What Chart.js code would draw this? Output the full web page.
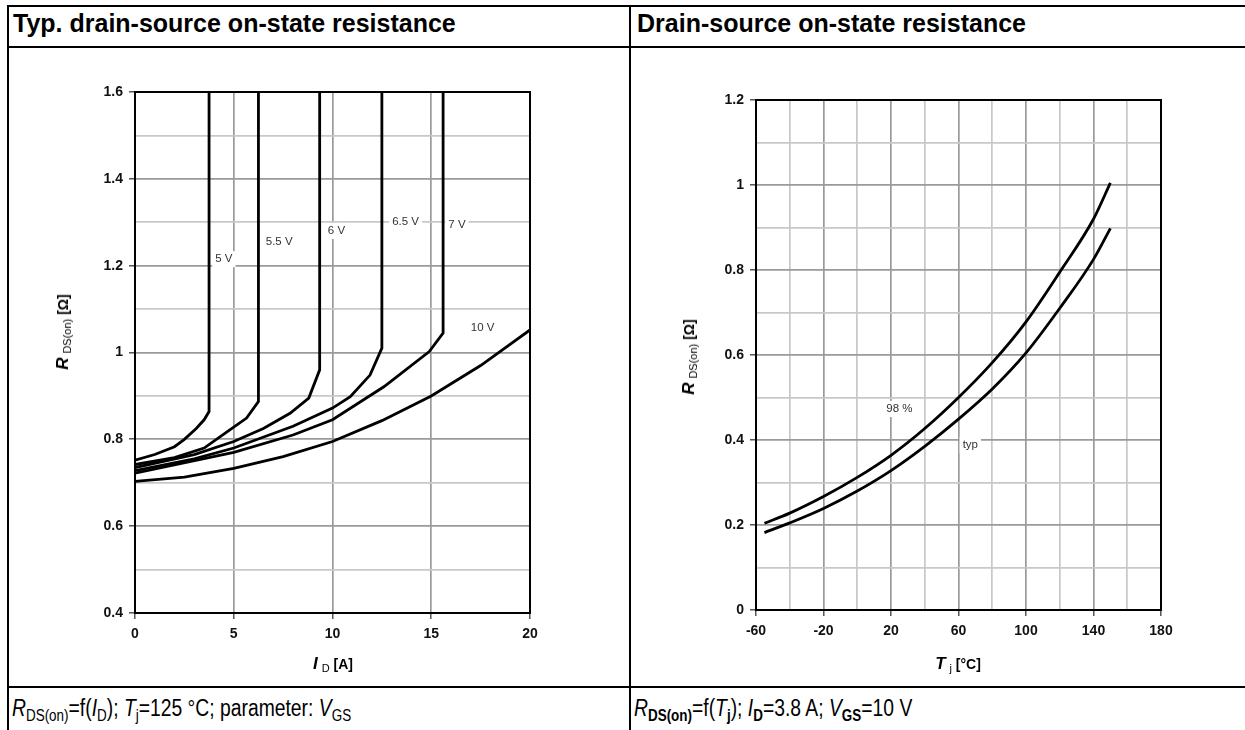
<!DOCTYPE html>
<html>
<head>
<meta charset="utf-8">
<script src="https://cdn.jsdelivr.net/npm/chart.js@4.4.0/dist/chart.umd.min.js"></script>
<style>
body { margin: 0; background: #fff; font-family: Arial, "Liberation Sans", sans-serif; width: 1245px; height: 730px; overflow: hidden; position: relative; }
.ln { position: absolute; background: #000; }
.hdr { position: absolute; top: 9px; font-weight: bold; font-size: 25px; white-space: nowrap; }
.cap { position: absolute; top: 695px; font-size: 23px; white-space: nowrap; transform: scaleX(0.84); transform-origin: left top; }
.cap sub { font-size: 16px; vertical-align: -5px; }
.box { position: absolute; }
.ttl { position: absolute; font-size: 14px; font-weight: bold; white-space: nowrap; }
.ttl i { font-size: 17px; }
.ttl sub { font-size: 11px; font-weight: normal; vertical-align: -3px; }
.rot { transform: translate(-50%, -50%) rotate(-90deg); }
.hor { transform: translate(-50%, -50%); }
</style>
</head>
<body>

<!-- table frame -->
<div class="ln" style="left:7px;top:5px;width:1245px;height:2px"></div>
<div class="ln" style="left:7px;top:46px;width:1245px;height:2px"></div>
<div class="ln" style="left:7px;top:686px;width:1245px;height:2px"></div>
<div class="ln" style="left:7px;top:5px;width:2px;height:730px"></div>
<div class="ln" style="left:629px;top:5px;width:2px;height:730px"></div>

<div class="hdr" style="left:13px">Typ. drain-source on-state resistance</div>
<div class="hdr" style="left:637px">Drain-source on-state resistance</div>

<div class="cap" style="left:12px"><i>R</i><sub>DS(on)</sub>=f(<i>I</i><sub>D</sub>); <i>T</i><sub>j</sub>=125 °C; parameter: <i>V</i><sub>GS</sub></div>
<div class="cap" style="left:634px"><i>R</i><sub><b>DS(on)</b></sub>=f(<i>T</i><sub><b>j</b></sub>); <i>I</i><sub><b>D</b></sub>=3.8 A; <i>V</i><sub><b>GS</b></sub>=10 V</div>

<div class="box" style="left:20px;top:60px;width:600px;height:620px"><canvas id="leftChart"></canvas></div>
<div class="box" style="left:640px;top:60px;width:590px;height:620px"><canvas id="rightChart"></canvas></div>

<div class="ttl rot" style="left:63px;top:332px"><i>R</i> <sub>DS(on)</sub> [Ω]</div>
<div class="ttl hor" style="left:333px;top:664px"><i>I</i> <sub>D</sub> [A]</div>
<div class="ttl rot" style="left:689px;top:357px"><i>R</i> <sub>DS(on)</sub> [Ω]</div>
<div class="ttl hor" style="left:958px;top:664px"><i>T</i> <sub>j</sub> [°C]</div>

<script>
// R_DS(on) = f(I_D), Tj = 125 °C, one curve per V_GS
const id5V   = [0, 1, 2, 2.5, 3.1, 3.5, 3.75, 3.75];
const r5V    = [0.752, 0.765, 0.783, 0.80, 0.825, 0.845, 0.864, 1.6];
const id55V  = [0, 2, 3.5, 4.8, 5.65, 6.25, 6.25];
const r55V   = [0.742, 0.758, 0.78, 0.822, 0.849, 0.887, 1.6];
const id6V   = [0, 3, 5, 6.5, 7.85, 8.8, 9.35, 9.35];
const r6V    = [0.735, 0.765, 0.795, 0.825, 0.86, 0.895, 0.96, 1.6];
const id65V  = [0, 3, 5, 8, 10, 10.9, 11.9, 12.5, 12.5];
const r65V   = [0.728, 0.755, 0.78, 0.83, 0.872, 0.898, 0.948, 1.01, 1.6];
const id7V   = [0, 5, 8, 10, 12.6, 14.9, 15.6, 15.6];
const r7V    = [0.722, 0.77, 0.81, 0.845, 0.921, 1.002, 1.045, 1.6];
const id10V  = [0, 2.5, 5, 7.5, 10, 12.5, 15, 17.5, 20];
const r10V   = [0.703, 0.713, 0.733, 0.76, 0.795, 0.843, 0.9, 0.97, 1.052];

const vgsLabels = ['5 V', '5.5 V', '6 V', '6.5 V', '7 V', '10 V'];
const vgsLabelX = [4.5, 7.3, 10.2, 13.7, 16.3, 17.6];
const vgsLabelY = [1.215, 1.254, 1.28, 1.30, 1.293, 1.056];

// R_DS(on) = f(Tj), ID = 3.8 A, VGS = 10 V
const tj     = [-55, -40, -20, 0, 20, 40, 60, 80, 100, 120, 140, 150];
const r98    = [0.204, 0.228, 0.267, 0.312, 0.364, 0.427, 0.50, 0.582, 0.678, 0.795, 0.92, 1.005];
const rTyp   = [0.182, 0.205, 0.239, 0.28, 0.328, 0.385, 0.449, 0.52, 0.605, 0.71, 0.825, 0.898];

const tjLabels = ['98 %', 'typ'];
const tjLabelX = [25, 67];
const tjLabelY = [0.473, 0.388];

const toPoints = (xs, ys) => xs.map((x, i) => ({ x: x, y: ys[i] }));

function curve(xs, ys, tension) {
    return {
        data: toPoints(xs, ys),
        showLine: true,
        borderColor: '#000',
        borderWidth: 2.8,
        pointRadius: 0,
        tension: tension || 0,
        cubicInterpolationMode: tension ? 'monotone' : 'default'
    };
}

const tickFont = { family: 'Arial, "Liberation Sans", sans-serif', size: 14, weight: 'bold' };
const MAJOR = '#9a9a9a';
const MINOR = '#c8c8c8';

// black frame round the plot area
const framePlugin = {
    id: 'frame',
    beforeDatasetsDraw(chart) {
        const a = chart.chartArea;
        const c = chart.ctx;
        c.save();
        c.strokeStyle = '#000';
        c.lineWidth = 2;
        c.strokeRect(a.left, a.top, a.right - a.left, a.bottom - a.top);
        c.restore();
    }
};

// curve labels with white background
const labelPlugin = {
    id: 'curveLabels',
    afterDatasetsDraw(chart, args, opts) {
        const c = chart.ctx;
        const xs = chart.scales.x, ys = chart.scales.y;
        c.save();
        c.font = '11.5px Arial, "Liberation Sans", sans-serif';
        c.textAlign = 'center';
        c.textBaseline = 'middle';
        opts.texts.forEach((t, i) => {
            const px = xs.getPixelForValue(opts.xs[i]);
            const py = ys.getPixelForValue(opts.ys[i]);
            const w = c.measureText(t).width + 6;
            c.fillStyle = '#fff';
            c.fillRect(px - w / 2, py - 8, w, 16);
            c.fillStyle = '#333';
            c.fillText(t, px, py);
        });
        c.restore();
    }
};

function fmt(v) {
    return String(Math.round(v * 10) / 10);
}

new Chart(document.getElementById('leftChart'), {
    type: 'scatter',
    data: {
        datasets: [
            curve(id5V, r5V), curve(id55V, r55V), curve(id6V, r6V),
            curve(id65V, r65V), curve(id7V, r7V), curve(id10V, r10V)
        ]
    },
    plugins: [framePlugin, labelPlugin],
    options: {
        responsive: true,
        maintainAspectRatio: false,
        animation: false,
        layout: { padding: { left: 0, top: 32, right: 90, bottom: 0 } },
        plugins: {
            legend: { display: false },
            tooltip: { enabled: false },
            curveLabels: { texts: vgsLabels, xs: vgsLabelX, ys: vgsLabelY }
        },
        scales: {
            x: {
                min: 0, max: 20,
                border: { display: false },
                grid: { color: MAJOR, lineWidth: 1.7, tickLength: 6, tickColor: '#000', tickWidth: 1 },
                ticks: { stepSize: 5, font: tickFont, color: '#111', padding: 7 },
                afterFit(s) { s.height = 67; }
            },
            y: {
                min: 0.4, max: 1.6,
                border: { display: false },
                grid: {
                    color: c => (Math.round(c.tick.value * 10) % 2 === 0 ? MAJOR : MINOR),
                    lineWidth: 1.7,
                    tickLength: 6,
                    tickColor: c => (Math.round(c.tick.value * 10) % 2 === 0 ? '#000' : 'rgba(0,0,0,0)'),
                    tickWidth: 1
                },
                ticks: {
                    stepSize: 0.1,
                    font: tickFont,
                    color: '#111',
                    padding: 6,
                    callback: v => (Math.round(v * 10) % 2 === 0 ? fmt(v) : '')
                },
                afterFit(s) { s.width = 115; }
            }
        }
    }
});

new Chart(document.getElementById('rightChart'), {
    type: 'scatter',
    data: {
        datasets: [curve(tj, r98, 0.4), curve(tj, rTyp, 0.4)]
    },
    plugins: [framePlugin, labelPlugin],
    options: {
        responsive: true,
        maintainAspectRatio: false,
        animation: false,
        layout: { padding: { left: 0, top: 40, right: 69, bottom: 0 } },
        plugins: {
            legend: { display: false },
            tooltip: { enabled: false },
            curveLabels: { texts: tjLabels, xs: tjLabelX, ys: tjLabelY }
        },
        scales: {
            x: {
                min: -60, max: 180,
                border: { display: false },
                grid: {
                    color: c => ((c.tick.value + 60) % 40 === 0 ? MAJOR : MINOR),
                    lineWidth: 1.7,
                    tickLength: 6,
                    tickColor: c => ((c.tick.value + 60) % 40 === 0 ? '#000' : 'rgba(0,0,0,0)'),
                    tickWidth: 1
                },
                ticks: {
                    stepSize: 20,
                    font: tickFont,
                    color: '#111',
                    padding: 7,
                    callback: v => ((v + 60) % 40 === 0 ? String(v) : '')
                },
                afterFit(s) { s.height = 70; }
            },
            y: {
                min: 0, max: 1.2,
                border: { display: false },
                grid: {
                    color: c => (Math.round(c.tick.value * 10) % 2 === 0 ? MAJOR : MINOR),
                    lineWidth: 1.7,
                    tickLength: 6,
                    tickColor: c => (Math.round(c.tick.value * 10) % 2 === 0 ? '#000' : 'rgba(0,0,0,0)'),
                    tickWidth: 1
                },
                ticks: {
                    stepSize: 0.1,
                    font: tickFont,
                    color: '#111',
                    padding: 6,
                    callback: v => (Math.round(v * 10) % 2 === 0 ? fmt(v) : '')
                },
                afterFit(s) { s.width = 116; }
            }
        }
    }
});
</script>
</body>
</html>
